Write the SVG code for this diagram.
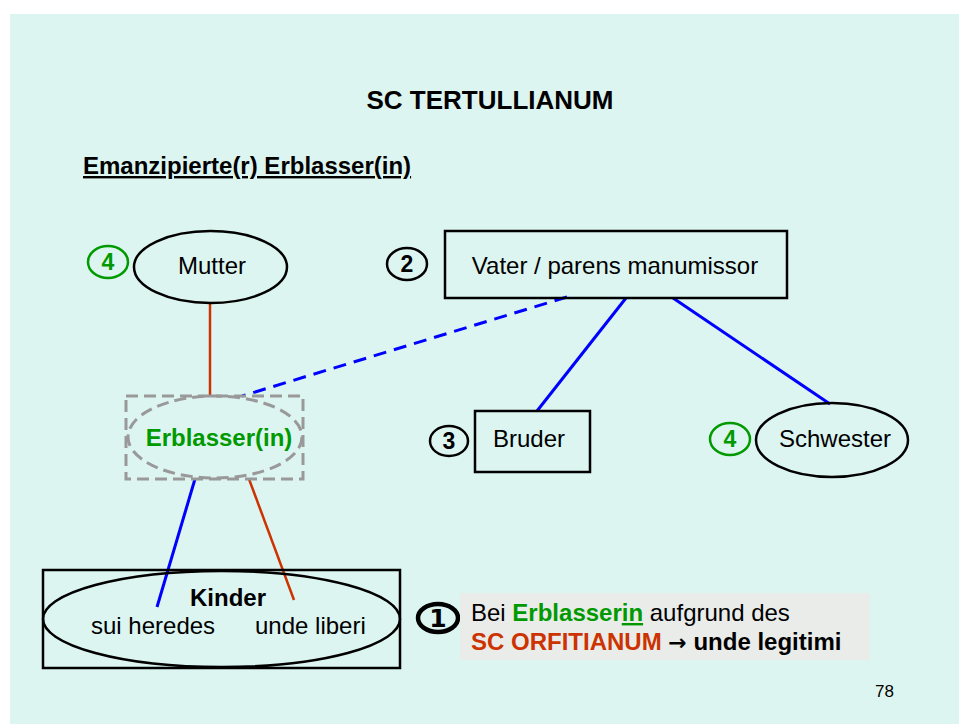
<svg xmlns="http://www.w3.org/2000/svg" width="959" height="724" viewBox="0 0 959 724">
<style>
text{font-family:"Liberation Sans",Arial,sans-serif;font-size:24px;fill:#000}
.b{font-weight:bold}
.g{fill:#009900}
.r{fill:#cc3300}
.shape{fill:none;stroke:#000;stroke-width:2.5}
.num{fill:none;stroke:#000;stroke-width:2.5}
.numg{fill:none;stroke:#009900;stroke-width:2.5}
.blue{stroke:#0000ff;stroke-width:3;fill:none}
.red{stroke:#cc3300;stroke-width:2.5;fill:none}
.gdash{fill:none;stroke:#999;stroke-width:3;stroke-dasharray:12 6}
</style>
<rect x="0" y="0" width="959" height="724" fill="#fff"/>
<rect x="10" y="14" width="949" height="710" fill="#ddf5f1"/>
<text x="490" y="109" text-anchor="middle" class="b" style="font-size:26px">SC TERTULLIANUM</text>
<text x="83" y="174" class="b" text-decoration="underline">Emanzipierte(r) Erblasser(in)</text>
<g id="connectors">
<line class="red" x1="210" y1="304" x2="210" y2="396"/>
<line class="blue" x1="567" y1="297" x2="242" y2="396" stroke-dasharray="13 8"/>
<line class="blue" x1="626" y1="298" x2="537" y2="411"/>
<line class="blue" x1="673" y1="298" x2="830" y2="404"/>
<line class="blue" x1="195" y1="479" x2="157" y2="607"/>
<line class="red" x1="249" y1="479" x2="294" y2="600"/>
</g>
<g id="mutter">
<ellipse class="shape" cx="210.5" cy="267" rx="76.5" ry="36"/>
<text x="212" y="274" text-anchor="middle">Mutter</text>
</g>
<g id="num4a">
<ellipse class="numg" cx="108" cy="262" rx="20" ry="16"/>
<text x="108" y="270" text-anchor="middle" class="b g" style="font-size:23px">4</text>
</g>
<g id="num2">
<ellipse class="num" cx="407" cy="264" rx="20" ry="16"/>
<text x="407" y="272" text-anchor="middle" class="b" style="font-size:23px">2</text>
</g>
<g id="vater">
<rect class="shape" x="445" y="231" width="342" height="67"/>
<text x="615" y="274" text-anchor="middle">Vater / parens manumissor</text>
</g>
<g id="erblasser">
<rect class="gdash" x="126" y="396" width="177" height="83"/>
<ellipse class="gdash" cx="215" cy="437" rx="87" ry="41"/>
<text x="219" y="446" text-anchor="middle" class="b g">Erblasser(in)</text>
</g>
<g id="num3">
<ellipse class="num" cx="449" cy="441" rx="19" ry="15"/>
<text x="449" y="449" text-anchor="middle" class="b" style="font-size:23px">3</text>
</g>
<g id="bruder">
<rect class="shape" x="475" y="411" width="115" height="61"/>
<text x="529" y="447" text-anchor="middle">Bruder</text>
</g>
<g id="num4b">
<ellipse class="numg" cx="730" cy="439" rx="20" ry="16"/>
<text x="730" y="447" text-anchor="middle" class="b g" style="font-size:23px">4</text>
</g>
<g id="schwester">
<ellipse class="shape" cx="832" cy="440" rx="76" ry="37"/>
<text x="835" y="447" text-anchor="middle">Schwester</text>
</g>
<g id="kinder">
<rect class="shape" x="43" y="570" width="357" height="98"/>
<ellipse class="shape" cx="221.5" cy="619" rx="178.5" ry="48"/>
<text x="228" y="606" text-anchor="middle" class="b">Kinder</text>
<text x="91" y="634">sui heredes</text>
<text x="255" y="634">unde liberi</text>
</g>
<g id="num1">
<ellipse cx="438" cy="618" rx="20" ry="14" fill="none" stroke="#000" stroke-width="4.5"/>
<text x="438" y="627" text-anchor="middle" class="b" style="font-size:25px;font-family:'DejaVu Sans',sans-serif">1</text>
</g>
<g id="note">
<rect x="460" y="593" width="410" height="67" fill="#eaecea"/>
<text x="471" y="621">Bei <tspan class="b g">Erblasser</tspan><tspan class="b g" text-decoration="underline">in</tspan> aufgrund des</text>
<text x="471" y="650" class="b"><tspan class="r">SC ORFITIANUM</tspan> <tspan style="font-family:'DejaVu Sans',sans-serif;font-size:22px">→</tspan> unde legitimi</text>
</g>
<text x="875" y="697" style="font-size:17px">78</text>
</svg>
